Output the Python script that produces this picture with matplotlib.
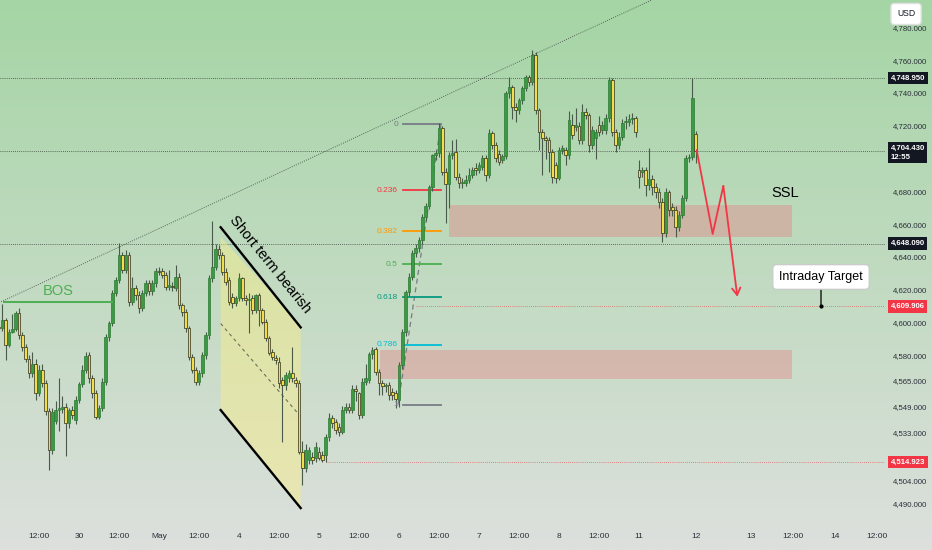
import numpy as np
import matplotlib
matplotlib.use('Agg')
import matplotlib.pyplot as plt
from matplotlib import font_manager
from matplotlib.transforms import blended_transform_factory
from matplotlib.patches import Polygon, Rectangle, FancyArrowPatch
from matplotlib.ticker import FuncFormatter, FixedLocator

names = {f.name for f in font_manager.fontManager.ttflist}
FONT = 'Liberation Sans Narrow' if 'Liberation Sans Narrow' in names else 'Liberation Sans'
plt.rcParams['font.family'] = [FONT, 'DejaVu Sans']

# ---------------- data (hourly XAU candles) ----------------
open_ = [4597.0, 4596.5, 4601.6, 4586.3, 4594.5, 4596.0, 4605.6, 4592.4, 4585.3, 4578.0,
         4569.1, 4575.0, 4557.0, 4571.0, 4563.0, 4546.0, 4522.4, 4540.0, 4547.0, 4547.5,
         4548.5, 4538.6, 4546.7, 4540.6, 4552.8, 4562.6, 4571.0, 4580.0, 4566.0, 4557.0,
         4542.6, 4548.0, 4564.0, 4591.4, 4599.5, 4617.8, 4625.9, 4641.2, 4632.0, 4641.2,
         4612.7, 4621.0, 4617.0, 4609.0, 4618.0, 4624.0, 4619.0, 4624.0, 4631.5, 4631.4,
         4629.0, 4622.0, 4622.0, 4621.0, 4628.0, 4610.7, 4606.6, 4596.5, 4579.2, 4571.0,
         4564.0, 4569.0, 4580.0, 4592.4, 4627.0, 4634.0,
         4644.6, 4641.2, 4631.0, 4626.0, 4615.8, 4612.0, 4614.8, 4627.0, 4615.0, 4613.8,
         4614.8, 4607.7, 4616.8, 4607.7, 4600.6, 4590.4, 4582.3, 4578.2, 4576.2, 4565.0,
         4562.0, 4566.0, 4569.1, 4565.0, 4563.0, 4521.4,
         4511.2, 4516.3, 4518.4, 4517.3, 4521.4, 4519.4, 4519.4, 4530.5, 4541.7, 4539.7,
         4536.6, 4533.6, 4546.8, 4548.8, 4546.8, 4559.4, 4556.9, 4543.7, 4564.1, 4565.1,
         4580.9, 4583.8, 4570.1, 4563.0, 4561.4, 4562.0, 4558.0, 4557.4,
         4552.9, 4574.2, 4594.5, 4618.9, 4628.0, 4642.3, 4645.3, 4650.4, 4664.6, 4671.0,
         4682.6, 4702.0, 4703.1, 4718.4, 4692.0, 4684.2, 4702.1, 4703.8, 4688.9, 4684.9,
         4685.2, 4686.9, 4690.0, 4694.0, 4693.0, 4695.0, 4700.1, 4689.9, 4715.3, 4708.2,
         4703.0, 4699.1, 4701.5, 4739.7, 4743.8, 4731.6, 4729.5, 4735.6, 4742.8, 4749.9,
         4746.8, 4763.1, 4729.5, 4716.3, 4712.3, 4711.3, 4704.2, 4696.0, 4687.9, 4705.2,
         4705.2, 4702.1, 4720.4, 4719.4, 4719.8, 4711.3, 4728.5, 4726.5, 4708.2, 4712.3,
         4720.4, 4717.4, 4717.4, 4724.5, 4747.8, 4716.3, 4708.2, 4713.3, 4722.0, 4722.4,
         4723.8, 4724.5,
         4693.0, 4692.0, 4693.0, 4683.8, 4687.3, 4682.8, 4679.8, 4673.7, 4654.4, 4679.8,
         4670.6, 4668.6, 4658.5, 4665.6, 4675.7, 4700.1, 4701.1, 4714.9]
high = [4598.5, 4611.5, 4603.0, 4596.0, 4605.0, 4607.0, 4609.0, 4594.0, 4587.0, 4580.0,
        4582.0, 4578.0, 4574.0, 4575.0, 4565.0, 4548.0, 4548.0, 4552.0, 4566.0, 4555.0,
        4551.0, 4548.0, 4549.0, 4555.0, 4564.0, 4574.0, 4582.0, 4582.0, 4568.0, 4559.0,
        4550.0, 4566.0, 4593.0, 4601.0, 4620.0, 4628.0, 4648.3, 4643.0, 4644.0, 4643.0,
        4628.0, 4623.0, 4619.0, 4620.0, 4626.0, 4626.0, 4626.0, 4633.0, 4634.0, 4633.0,
        4631.0, 4632.0, 4625.0, 4635.0, 4630.0, 4612.0, 4608.0, 4598.0, 4581.0, 4573.0,
        4571.0, 4582.0, 4594.0, 4629.0, 4662.0, 4648.0,
        4647.0, 4643.0, 4633.0, 4628.0, 4618.0, 4616.0, 4630.0, 4628.0, 4617.0, 4618.0,
        4617.0, 4617.5, 4618.0, 4609.0, 4602.0, 4592.0, 4584.0, 4580.0, 4579.0, 4567.0,
        4570.0, 4571.0, 4585.3, 4567.0, 4565.0, 4528.0,
        4526.0, 4524.0, 4521.0, 4527.0, 4524.0, 4522.0, 4532.0, 4545.0, 4544.0, 4541.0,
        4539.0, 4549.0, 4551.0, 4551.0, 4562.0, 4562.0, 4558.0, 4566.0, 4575.0, 4582.0,
        4585.0, 4585.0, 4572.0, 4565.0, 4563.0, 4564.0, 4560.0, 4559.0,
        4576.0, 4596.0, 4620.0, 4630.0, 4644.0, 4648.0, 4652.0, 4666.0, 4673.0, 4684.0,
        4703.0, 4705.0, 4721.5, 4720.0, 4694.0, 4704.0, 4711.0, 4712.0, 4691.0, 4688.0,
        4690.0, 4694.0, 4695.0, 4697.0, 4698.0, 4702.0, 4702.0, 4718.0, 4717.0, 4710.0,
        4705.0, 4703.0, 4741.0, 4749.9, 4745.0, 4734.0, 4737.0, 4744.0, 4751.0, 4751.0,
        4766.0, 4765.0, 4731.0, 4718.0, 4714.0, 4713.0, 4706.0, 4698.0, 4707.0, 4708.0,
        4707.0, 4729.0, 4727.0, 4731.0, 4722.0, 4733.0, 4731.0, 4728.0, 4720.0, 4718.0,
        4726.0, 4723.0, 4727.0, 4749.8, 4749.0, 4718.0, 4716.0, 4724.0, 4726.0, 4727.0,
        4728.0, 4726.0,
        4699.1, 4695.0, 4695.0, 4706.2, 4690.0, 4685.0, 4682.0, 4676.0, 4682.0, 4681.0,
        4673.0, 4671.0, 4668.0, 4678.0, 4702.0, 4703.0, 4748.8, 4717.0]
low = [4595.0, 4595.0, 4577.0, 4585.0, 4593.5, 4595.0, 4590.0, 4583.0, 4576.0, 4566.0,
       4567.0, 4553.0, 4555.0, 4561.0, 4544.0, 4510.0, 4520.0, 4538.0, 4534.0, 4545.0,
       4519.0, 4536.0, 4541.0, 4538.0, 4551.0, 4561.0, 4569.0, 4563.0, 4554.0, 4541.0,
       4541.0, 4546.0, 4562.0, 4589.0, 4598.0, 4616.0, 4624.0, 4630.0, 4630.0, 4610.0,
       4611.0, 4614.0, 4606.0, 4607.0, 4616.0, 4617.0, 4617.0, 4622.0, 4629.0, 4627.0,
       4620.0, 4620.0, 4619.0, 4619.0, 4608.0, 4604.0, 4594.0, 4577.0, 4569.0, 4562.0,
       4562.0, 4567.0, 4578.0, 4590.0, 4625.0, 4632.0,
       4639.0, 4629.0, 4623.0, 4611.0, 4609.0, 4610.0, 4613.0, 4613.0, 4611.0, 4593.5,
       4605.0, 4606.0, 4598.0, 4599.0, 4589.0, 4580.0, 4577.0, 4575.0, 4560.0, 4527.4,
       4559.0, 4564.0, 4564.0, 4561.0, 4520.0, 4501.0,
       4509.0, 4514.0, 4514.0, 4515.0, 4516.0, 4515.0, 4515.3, 4528.0, 4536.0, 4532.0,
       4531.0, 4532.0, 4545.0, 4545.0, 4545.0, 4552.0, 4541.0, 4542.0, 4562.0, 4563.0,
       4578.0, 4568.0, 4556.0, 4556.0, 4558.0, 4553.0, 4553.0, 4547.8,
       4548.8, 4572.0, 4592.0, 4616.0, 4626.0, 4640.0, 4643.0, 4648.0, 4662.0, 4669.0,
       4680.0, 4699.0, 4701.0, 4690.0, 4660.5, 4670.0, 4700.0, 4687.0, 4682.0, 4682.0,
       4683.0, 4685.0, 4688.0, 4690.0, 4691.0, 4693.0, 4686.0, 4688.0, 4706.0, 4698.0,
       4696.0, 4697.0, 4700.0, 4737.0, 4724.0, 4722.0, 4727.0, 4733.0, 4741.0, 4744.0,
       4745.0, 4727.0, 4705.0, 4690.0, 4700.0, 4692.0, 4685.0, 4685.0, 4686.9, 4703.0,
       4696.0, 4700.0, 4712.0, 4717.0, 4709.0, 4709.0, 4724.0, 4704.0, 4706.0, 4700.0,
       4714.0, 4715.0, 4715.0, 4722.0, 4714.0, 4704.1, 4706.0, 4711.0, 4718.0, 4720.0,
       4721.0, 4713.0,
       4681.8, 4689.0, 4677.0, 4681.0, 4678.0, 4676.0, 4670.0, 4649.3, 4652.0, 4665.0,
       4665.0, 4652.4, 4656.0, 4664.0, 4674.0, 4698.0, 4699.0, 4697.0]
close = [4596.5, 4601.6, 4586.3, 4594.5, 4596.0, 4605.6, 4592.4, 4585.3, 4578.0, 4569.1,
         4575.0, 4557.0, 4571.0, 4563.0, 4546.0, 4522.4, 4545.7, 4547.0, 4547.5, 4548.5,
         4538.6, 4546.7, 4543.7, 4552.8, 4562.6, 4571.0, 4579.6, 4566.0, 4557.0, 4542.6,
         4548.0, 4564.0, 4591.4, 4599.5, 4617.8, 4625.9, 4641.2, 4632.0, 4641.2, 4612.7,
         4621.0, 4617.0, 4609.0, 4618.0, 4624.0, 4619.0, 4624.0, 4631.5, 4631.0, 4629.0,
         4622.0, 4623.0, 4621.9, 4628.0, 4610.7, 4606.6, 4596.5, 4579.2, 4571.0, 4564.0,
         4569.0, 4580.0, 4592.4, 4627.0, 4634.0, 4644.6,
         4641.2, 4631.0, 4624.9, 4612.7, 4611.7, 4614.8, 4627.0, 4615.0, 4613.8, 4614.3,
         4607.7, 4616.8, 4607.7, 4600.6, 4590.4, 4581.3, 4579.2, 4577.5, 4563.0, 4562.0,
         4568.1, 4569.1, 4566.0, 4563.0, 4521.4, 4511.2,
         4522.4, 4522.4, 4516.3, 4524.4, 4517.3, 4516.3, 4530.5, 4541.7, 4538.7, 4534.6,
         4533.6, 4546.8, 4548.8, 4546.8, 4559.4, 4558.4, 4543.7, 4564.1, 4566.1, 4580.9,
         4583.3, 4570.1, 4563.0, 4561.4, 4561.6, 4555.9, 4555.9, 4553.3,
         4574.2, 4594.5, 4618.9, 4628.0, 4642.3, 4645.3, 4650.4, 4664.6, 4671.0, 4682.6,
         4702.0, 4703.1, 4718.4, 4692.0, 4684.2, 4702.1, 4703.1, 4688.9, 4684.9, 4685.2,
         4686.9, 4690.0, 4693.0, 4693.0, 4696.0, 4700.1, 4689.9, 4715.3, 4708.2, 4700.1,
         4698.1, 4701.5, 4739.7, 4743.8, 4731.6, 4729.5, 4735.6, 4742.8, 4749.9, 4746.8,
         4763.1, 4729.5, 4716.3, 4712.3, 4711.3, 4704.2, 4688.9, 4687.9, 4705.2, 4706.2,
         4702.1, 4723.5, 4714.3, 4720.4, 4711.3, 4728.5, 4726.5, 4708.2, 4717.4, 4716.3,
         4716.3, 4720.4, 4724.5, 4747.8, 4716.3, 4708.2, 4713.3, 4721.4, 4722.4, 4723.8,
         4724.6, 4716.3,
         4688.9, 4692.2, 4683.8, 4687.3, 4682.8, 4679.8, 4673.7, 4654.4, 4679.8, 4668.6,
         4668.6, 4658.5, 4665.6, 4675.7, 4700.1, 4701.1, 4736.6, 4704.43]

price_ticks = [4780, 4760, 4740, 4720, 4680, 4660, 4640, 4620, 4600, 4580,
               4565, 4549, 4533, 4518, 4504, 4490]
time_tick_pos = [12, 24, 36, 48, 60, 72, 84, 96, 108, 120, 132, 144, 156, 168, 180,
                 192, 209, 225.6, 238.2, 250.8, 263.4]
time_tick_labels = ['12:00', '30', '12:00', 'May', '12:00', '4', '12:00', '5', '12:00', '6',
                    '12:00', '7', '12:00', '8', '12:00', '11', '12', '13', '12:00', '14', '12:00']

last_price = 4704.43
last_time = '12:55'
dark_levels = [4748.95, 4704.43, 4648.09]
red_levels = [4609.906, 4514.923]
red_level_start = [125, 98]

trend_x = [0.0, 265.8]
trend_y = [4612.1, 4862.6]

bos_level = 4612.3
bos_x = [1.5, 33.8]

chan_x = [66.5, 90.5]
chan_top = [4652.2, 4598.5]
chan_bot = [4546.7, 4487.0]
chan_line_top = [4658.1, 4597.1]

fib_high = 4721.0
fib_low = 4550.0
fib_ratios = [0, 0.236, 0.382, 0.5, 0.618, 0.786, 1]
fib_labels = ['0', '0.236', '0.382', '0.5', '0.618', '0.786', '1']
fib_colors = ['#787b86', '#f23645', '#ff9800', '#4caf50', '#089981', '#00bcd4', '#787b86']
fib_x = [121.1, 132.6]
fib_anchor_x = [119.7, 132.6]

zone_x = [[135.1, 237.8], [114.3, 237.8]]
zone_y = [[4652.2, 4671.7], [4565.6, 4583.3]]

zig_x = [209.3, 214.1, 217.3, 221.5]
zig_y = [4705.2, 4654.0, 4683.3, 4615.8]

target_x = 246.6
target_text_y = 4627.8

# ---------------- figure ----------------
fig = plt.figure(figsize=(9.32, 5.5), dpi=100)
bg = fig.add_axes([0, 0, 1, 1], zorder=0)
g = np.linspace(0, 1, 256)[:, None, None]
c_top = np.array([165, 213, 165]) / 255
c_bot = np.array([221, 224, 221]) / 255
bg.imshow(c_top + (c_bot - c_top) * g, aspect='auto', extent=[0, 1, 0, 1], origin='upper')
bg.axis('off')

ax = fig.add_axes([0, 28 / 550, 885 / 932, 522 / 550], zorder=1)
ax.set_facecolor('none')
ax.set_xlim(0.3, 265.8)
ax.set_ylim(4478.5, 4796.6)
for s in ax.spines.values():
    s.set_visible(False)

# background drawings
ax.plot(trend_x, trend_y, color='#46564a', lw=0.65, ls=(0, (1, 1.5)), zorder=2)
for lv in dark_levels:
    ax.axhline(lv, color='#3c463c', lw=0.6, ls=(0, (1, 1.5)), zorder=2)
for lv, xs in zip(red_levels, red_level_start):
    ax.plot([xs, 265.8], [lv, lv], color='#e06060', lw=0.6, ls=(0, (1, 1.5)), zorder=2)

for (x0, x1), (y0, y1) in zip(zone_x, zone_y):
    ax.add_patch(Rectangle((x0, y0), x1 - x0, y1 - y0, facecolor='#e28a8a', alpha=0.45,
                           edgecolor='none', zorder=2))

# channel
poly = Polygon([[chan_x[0], chan_top[0]], [chan_x[1], chan_top[1]],
                [chan_x[1], chan_bot[1]], [chan_x[0], chan_bot[0]]],
               closed=True, facecolor='#fff080', alpha=0.42, edgecolor='none', zorder=2)
ax.add_patch(poly)
ax.plot(chan_x, [(chan_top[0] + chan_bot[0]) / 2, (chan_top[1] + chan_bot[1]) / 2],
        color='#6b705a', lw=0.8, ls=(0, (3, 3)), zorder=2)
ax.plot(chan_x, chan_line_top, color='black', lw=1.7, zorder=5)
ax.plot(chan_x, chan_bot, color='black', lw=1.7, zorder=5)
ax.text(81.2, 4635.5, 'Short term bearish', rotation=-51, rotation_mode='anchor',
        ha='center', va='center', fontsize=10.5, color='black', zorder=6)

# fib retracement
ax.plot(fib_anchor_x, [fib_low, fib_high], color='#787b86', lw=0.9, ls=(0, (4, 3)), zorder=2)
for r, lab, col in zip(fib_ratios, fib_labels, fib_colors):
    lv = fib_high - r * (fib_high - fib_low)
    ax.plot(fib_x, [lv, lv], color=col, lw=1.3, zorder=2)
    ax.text(fib_x[0] - 1.4, lv, lab, color=col, fontsize=6.0, ha='right', va='center', zorder=6)

# BOS
ax.plot(bos_x, [bos_level, bos_level], color='#4caf50', lw=1.4, zorder=5)
ax.text(17.8, 4619.5, 'BOS', color='#4caf50', fontsize=10.5, ha='center', va='center', zorder=6)

# candles
o = np.array(open_); h = np.array(high); l = np.array(low); c = np.array(close)
x = np.arange(len(c))
up = c >= o
ax.vlines(x, l, h, color='#4a5a4a', lw=0.8, zorder=3)
bb = np.minimum(o, c)
bh = np.maximum(np.abs(c - o), 0.7)
ax.bar(x[up], bh[up], bottom=bb[up], width=0.72, color='#3d9a44', edgecolor='#2c7a33',
       lw=0.5, zorder=4)
ax.bar(x[~up], bh[~up], bottom=bb[~up], width=0.72, color='#f2de4c', edgecolor='#2e2e20',
       lw=0.5, zorder=4)

# red zigzag projection
ax.plot(zig_x[:-1], zig_y[:-1], color='#f23645', lw=1.3, zorder=6, solid_capstyle='round')
ax.add_patch(FancyArrowPatch((zig_x[-2], zig_y[-2]), (zig_x[-1], zig_y[-1]),
                             arrowstyle='->,head_length=5,head_width=3', color='#f23645',
                             lw=1.3, shrinkA=0, shrinkB=0, zorder=6))

ax.text(235.8, 4679.0, 'SSL', fontsize=10.5, color='black', ha='center', va='center', zorder=6)
ax.annotate('Intraday Target', xy=(target_x, red_levels[0]), xytext=(target_x, target_text_y),
            fontsize=9.0, color='black', ha='center', va='center', zorder=7,
            bbox=dict(boxstyle='round,pad=0.5,rounding_size=0.3', fc='white', ec='#c8c8c8', lw=0.8),
            arrowprops=dict(arrowstyle='-', color='black', lw=0.9, shrinkA=0, shrinkB=0))
ax.plot([target_x], [red_levels[0]], marker='o', ms=2, color='black', zorder=7)

# axes ticks
ax.yaxis.tick_right()
ax.yaxis.set_major_locator(FixedLocator(price_ticks))
ax.yaxis.set_major_formatter(FuncFormatter(lambda v, p: f'{v:,.3f}'))
ax.tick_params(axis='y', length=0, pad=6, labelsize=5.6, labelcolor='#2a2e39')
ax.set_xticks(time_tick_pos)
ax.set_xticklabels(time_tick_labels)
ax.tick_params(axis='x', length=0, pad=8, labelsize=6.0, labelcolor='#2a2e39')

# price-axis labels
tr = blended_transform_factory(ax.transAxes, ax.transData)
def price_box(y, txt, fc, va='center'):
    ax.text(1.0062, y, txt, transform=tr, ha='left', va=va, fontsize=5.6, color='white',
            fontweight='bold', linespacing=1.3, clip_on=False, zorder=20,
            bbox=dict(boxstyle='square,pad=0.35', fc=fc, ec='none'))

price_box(dark_levels[0], f'{dark_levels[0]:,.3f}', '#131722')
price_box(last_price + 3.8, f'{last_price:,.3f}\n{last_time}', '#131722', va='top')
price_box(dark_levels[2], f'{dark_levels[2]:,.3f}', '#131722')
for lv in red_levels:
    price_box(lv, f'{lv:,.3f}', '#f23645')

fig.text(897 / 932, 1 - 14 / 550, 'USD', fontsize=6.2, color='#131722', ha='left', va='center',
         zorder=30, bbox=dict(boxstyle='round,pad=0.7,rounding_size=0.4', fc='white', ec='#e0e0e0'))

fig.savefig('out.png', dpi=100)
